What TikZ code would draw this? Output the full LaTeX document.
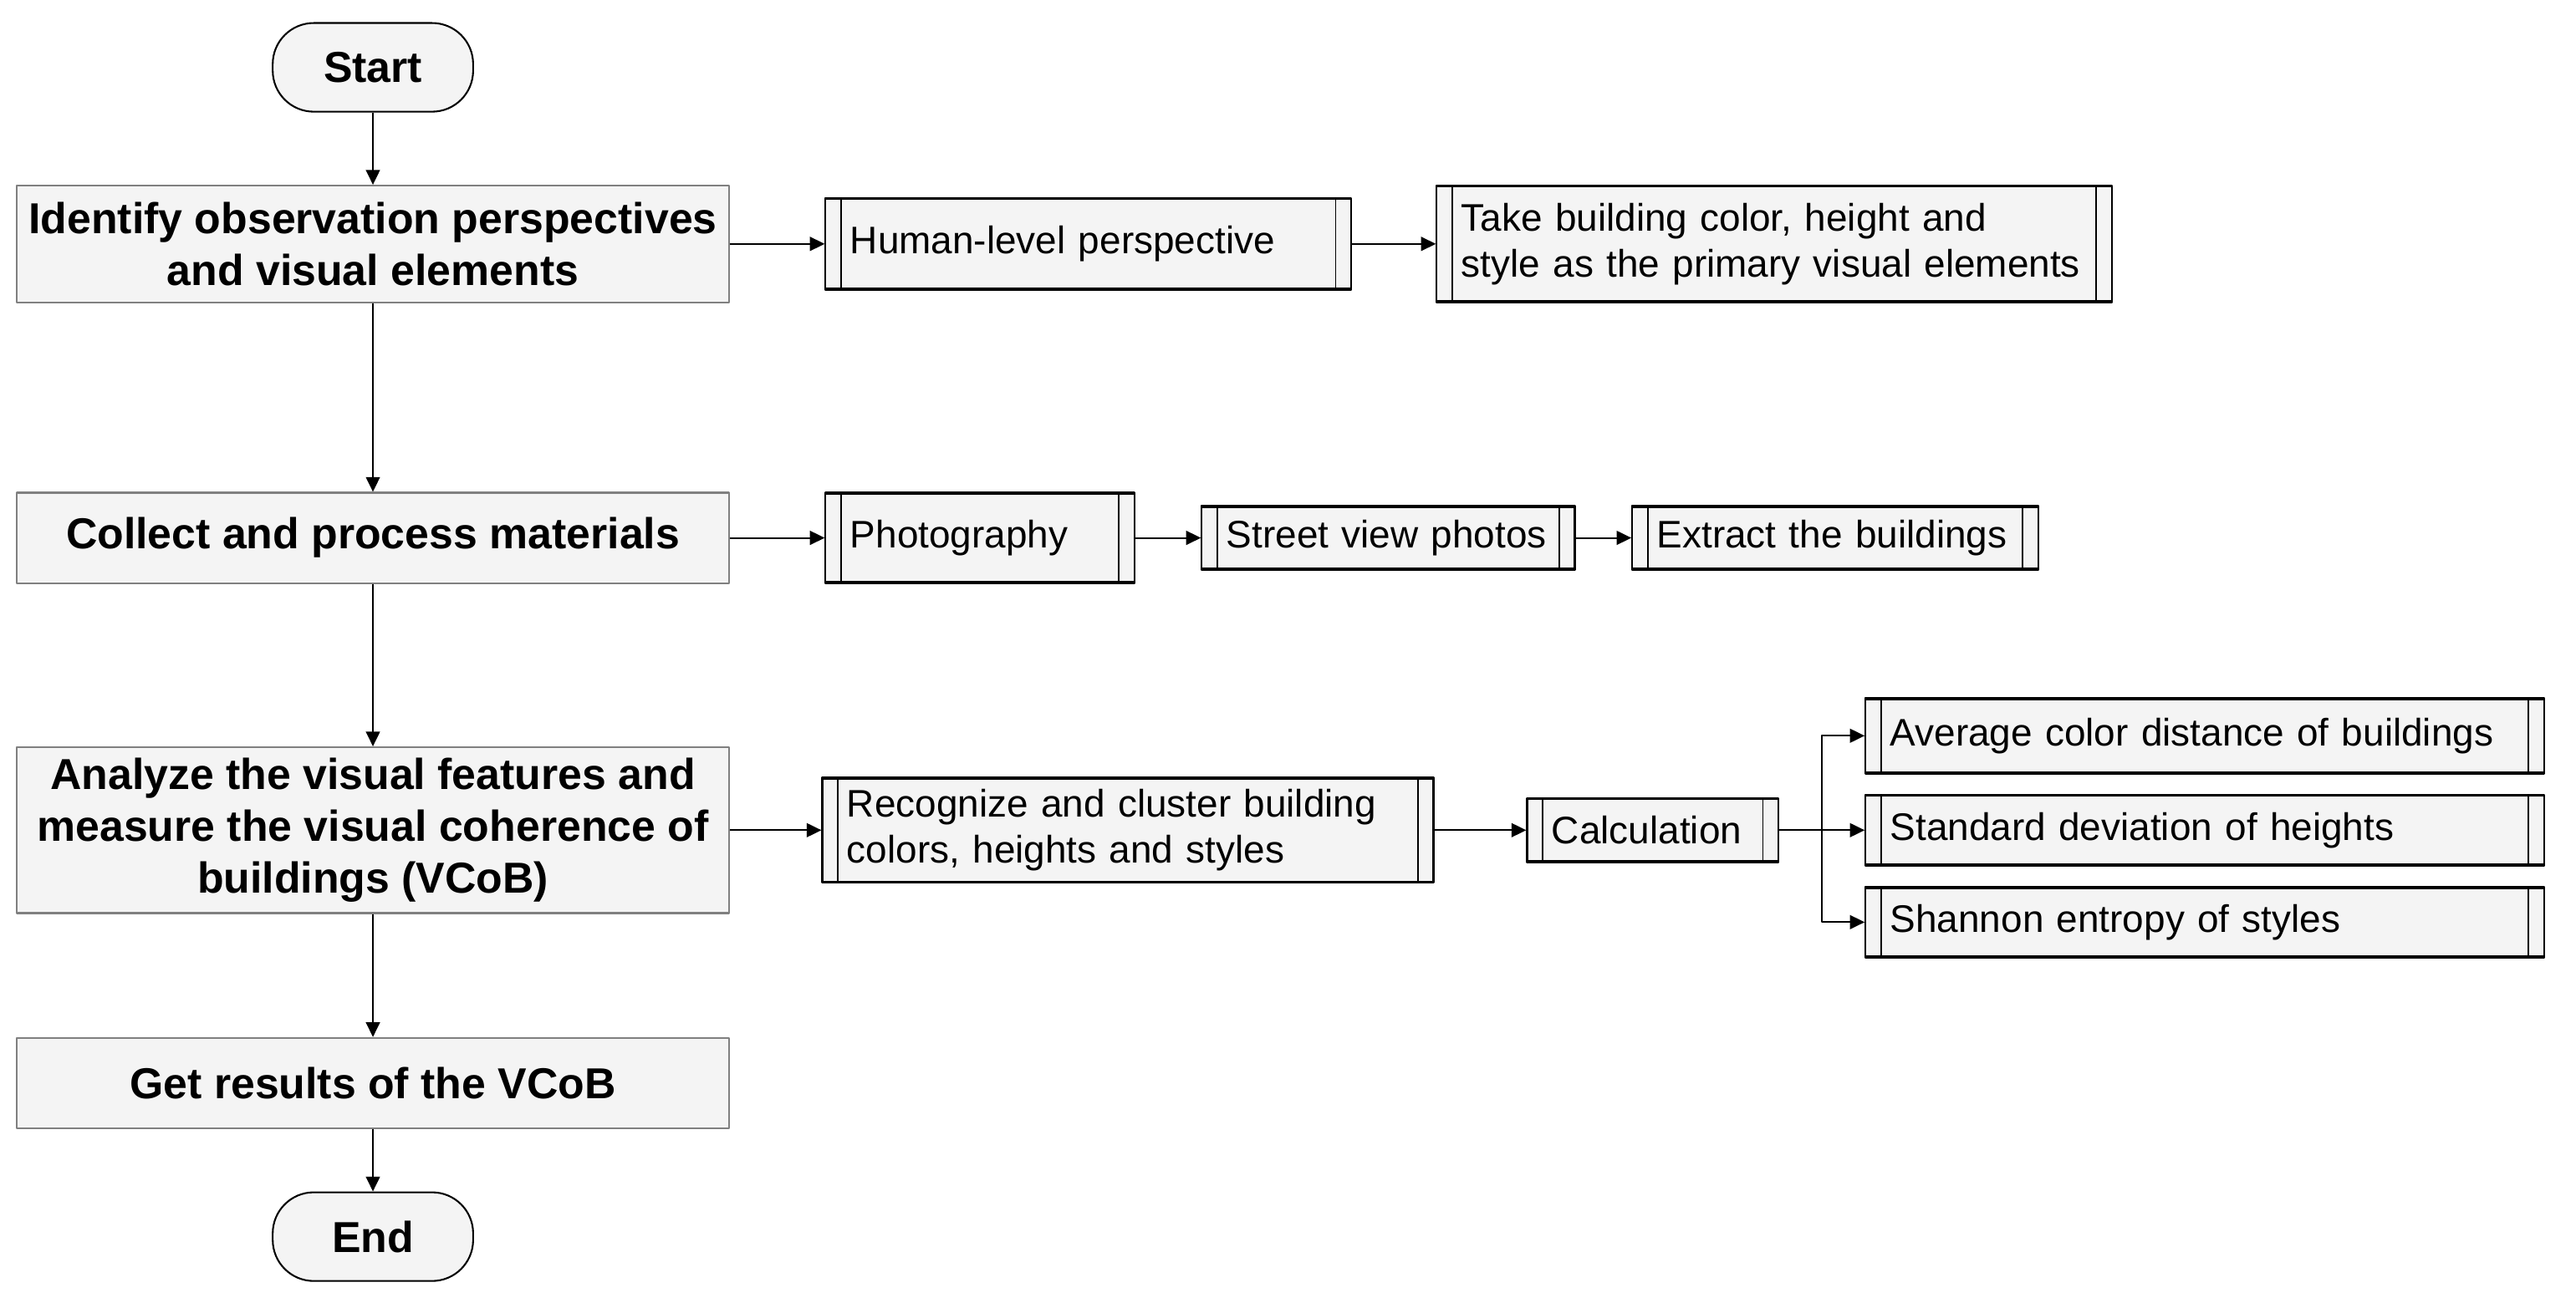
\documentclass[tikz,border=0pt]{standalone}
\usepackage{fontspec}
\setmainfont{Liberation Sans}
\usepackage{tikz}
\usetikzlibrary{arrows.meta}
\definecolor{boxfill}{HTML}{F4F4F4}
\definecolor{boxline}{HTML}{808080}
\tikzset{
  every picture/.style={line join=round, >={Triangle[length=1.8mm,width=1.7mm]}},
  flow/.style={line width=0.6pt, ->},
  terminal/.style={draw, fill=boxfill, line width=0.6pt, rounded corners=0.5cm, minimum width=2.44cm, minimum height=1.08cm, font=\bfseries\fontsize{15}{18}\selectfont},
  mainbox/.style={draw=boxline, fill=boxfill, line width=0.6pt, minimum width=8.68cm, align=center, font=\bfseries\fontsize{15}{17.9}\selectfont},
  subproc/.style={draw, fill=boxfill, line width=0.6pt, anchor=west, align=left, inner xsep=0.3cm, inner ysep=0pt, text width=#1, font=\fontsize{13.3}{15.9}\selectfont,
    path picture={
      \draw[line width=0.5pt] ([xshift=0.19cm]path picture bounding box.north west) -- ([xshift=0.19cm]path picture bounding box.south west);
      \draw[line width=0.5pt] ([xshift=-0.19cm]path picture bounding box.north east) -- ([xshift=-0.19cm]path picture bounding box.south east);
      \draw[line width=1.4pt] (path picture bounding box.north west) -- (path picture bounding box.north east);
      \draw[line width=1.4pt] (path picture bounding box.south west) -- (path picture bounding box.south east);
    }},
}

\begin{document}
\begin{tikzpicture}
\useasboundingbox (0,0) rectangle (31.36,-15.92);
% main column
\node[terminal] (start) at (4.54,-0.82) {Start};
\node[mainbox,minimum height=1.42cm] (identify) at (4.54,-2.97) {Identify observation perspectives\\and visual elements};
\node[mainbox,minimum height=1.10cm] (collect) at (4.54,-6.55) {Collect and process materials};
\node[mainbox,minimum height=2.02cm] (analyze) at (4.54,-10.11) {Analyze the visual features and\\measure the visual coherence of\\buildings (VCoB)};
\node[mainbox,minimum height=1.10cm] (results) at (4.54,-13.19) {Get results of the VCoB};
\node[terminal] (end) at (4.54,-15.06) {End};
% side steps
\node[subproc=5.80cm,minimum height=1.12cm] (human) at (10.04,-2.97) {Human-level perspective};
\node[subproc=7.62cm,minimum height=1.42cm] (take) at (17.48,-2.97) {Take building color, height and\\style as the primary visual elements};
\node[subproc=3.16cm,minimum height=1.10cm] (photo) at (10.04,-6.55) {Photography};
\node[subproc=3.94cm,minimum height=0.78cm] (street) at (14.62,-6.55) {Street view photos};
\node[subproc=4.34cm,minimum height=0.78cm] (extract) at (19.86,-6.55) {Extract the buildings};
\node[subproc=6.84cm,minimum height=1.28cm] (recognize) at (10.00,-10.11) {Recognize and cluster building\\colors, heights and styles};
\node[subproc=2.46cm,minimum height=0.78cm] (calc) at (18.58,-10.11) {Calculation};
\node[subproc=7.66cm,minimum height=0.92cm] (avg) at (22.70,-8.96) {Average color distance of buildings};
\node[subproc=7.66cm,minimum height=0.86cm] (std) at (22.70,-10.11) {Standard deviation of heights};
\node[subproc=7.66cm,minimum height=0.86cm] (shannon) at (22.70,-11.23) {Shannon entropy of styles};
\path (calc.east) ++(0.52,0) coordinate (split);
% connectors
\draw[flow] (start) -- (identify);
\draw[flow] (identify) -- (collect);
\draw[flow] (collect) -- (analyze);
\draw[flow] (analyze) -- (results);
\draw[flow] (results) -- (end);
\draw[flow] (identify) -- (human);
\draw[flow] (human) -- (take);
\draw[flow] (collect) -- (photo);
\draw[flow] (photo) -- (street);
\draw[flow] (street) -- (extract);
\draw[flow] (analyze) -- (recognize);
\draw[flow] (recognize) -- (calc);
\draw[line width=0.6pt] (calc) -- (split);
\draw[flow] (split) |- (avg);
\draw[flow] (split) -- (std);
\draw[flow] (split) |- (shannon);
\end{tikzpicture}
\end{document}
